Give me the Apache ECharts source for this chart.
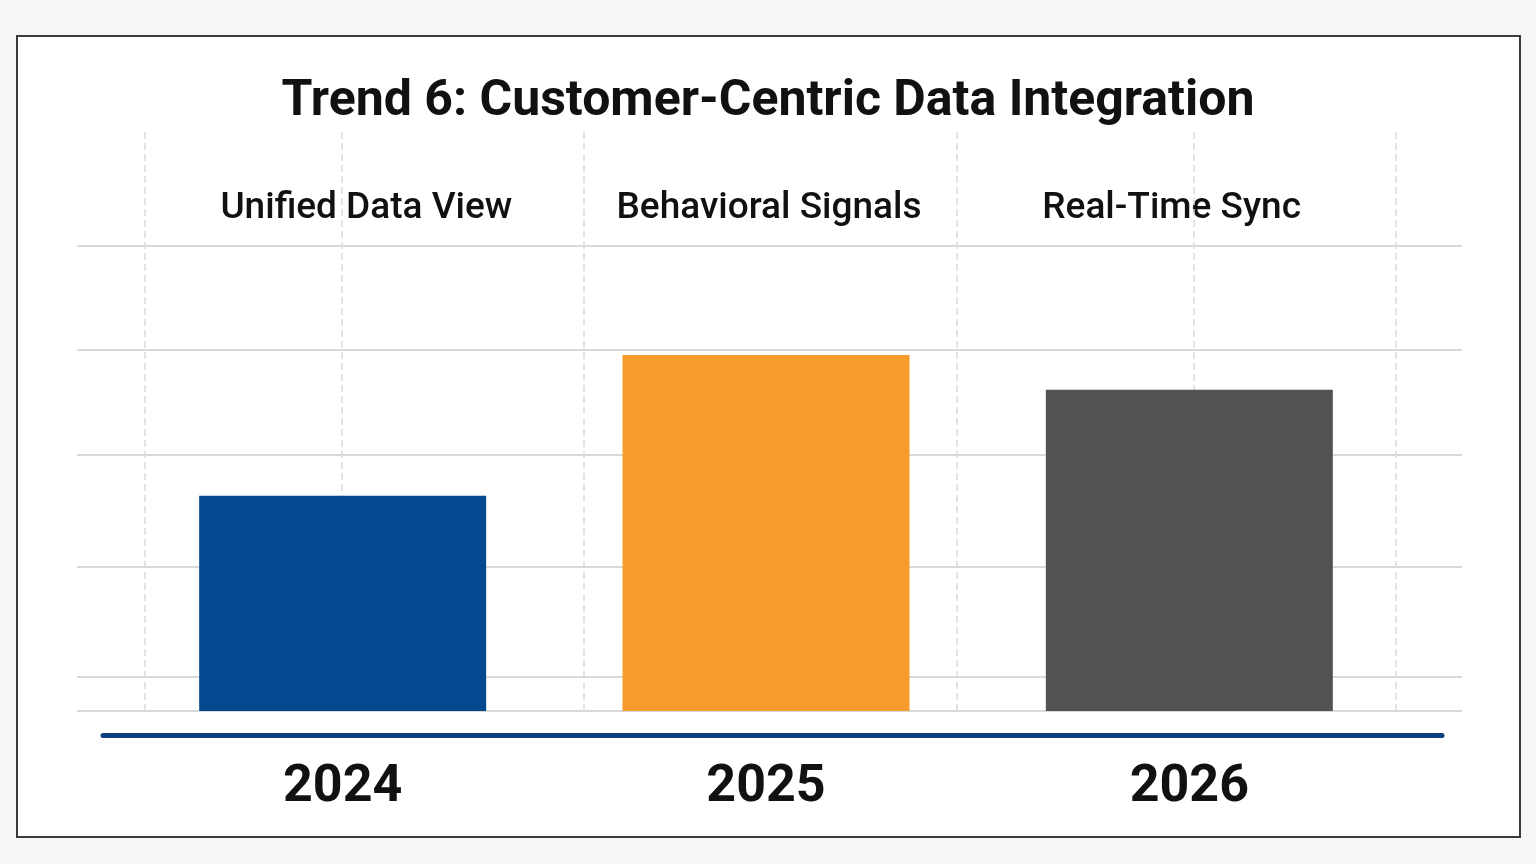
<!DOCTYPE html>
<html>
<head>
<meta charset="utf-8">
<title>Trend 6: Customer-Centric Data Integration</title>
<script src="https://cdn.jsdelivr.net/npm/echarts@6/dist/echarts.min.js"></script>
<style>
  html, body { margin: 0; padding: 0; background: #f6f6f6; }
  #frame {
    position: absolute; left: 16px; top: 35px;
    width: 1501px; height: 799px;
    border: 2px solid #3a3a3a; background: #ffffff;
  }
  #chart { position: absolute; left: 0; top: 0; width: 1536px; height: 864px; }
</style>
</head>
<body>
<div id="frame"></div>
<div id="chart"></div>
<script>
  const years = ["2024", "2025", "2026"];
  const topics = ["Unified Data View", "Behavioral Signals", "Real-Time Sync"];
  const scores = [46.3, 76.6, 69.1];
  const barColors = ["#02498f", "#f59c2c", "#515251"];
  // decorative grid lines (value units of the hidden axes)
  const hLines = [0, 7.3, 31, 55.1, 77.7, 100.2];
  const vLines = [4.9, 19.1, 36.6, 63.5, 80.6, 95.2];

  const chart = echarts.init(document.getElementById("chart"), null, { renderer: "canvas" });

  const hidden = { show: false };

  const option = {
    backgroundColor: "transparent",
    animation: false,
    title: {
      text: "Trend 6: Customer-Centric Data Integration",
      left: "center",
      top: 72,
      textStyle: {
        fontFamily: "Roboto",
        fontSize: 50,
        fontWeight: "bold",
        color: "#111111",
      },
    },
    grid: [
      { left: 77, right: 74, top: 130, bottom: 153 }, // grid lines
      { left: 131, right: 135, top: 130, bottom: 153 }, // bars
      { left: 165, right: 163, top: 209, bottom: 153 }, // topic labels
      { left: 103, right: 94, top: 130, bottom: 129 }, // blue rule
    ],
    xAxis: [
      { gridIndex: 0, type: "value", min: 0, max: 100, show: false },
      {
        gridIndex: 1,
        type: "category",
        data: years,
        axisLine: hidden,
        axisTick: hidden,
        splitLine: hidden,
        axisLabel: {
          margin: 77,
          verticalAlign: "middle",
          fontFamily: "Roboto",
          fontSize: 52,
          fontWeight: "bold",
          color: "#111111",
        },
      },
      {
        gridIndex: 2,
        type: "category",
        position: "top",
        data: topics,
        axisLine: hidden,
        axisTick: hidden,
        splitLine: hidden,
        axisLabel: {
          margin: 0,
          verticalAlign: "middle",
          fontFamily: "Roboto",
          fontSize: 37,
          fontWeight: 500,
          color: "#111111",
        },
      },
      {
        gridIndex: 3,
        type: "value",
        min: 0,
        max: 1,
        axisLine: { show: true, lineStyle: { color: "#0b3f7e", width: 5 } },
        axisTick: hidden,
        axisLabel: hidden,
        splitLine: hidden,
      },
    ],
    yAxis: [
      { gridIndex: 0, type: "value", min: 0, max: 125, show: false },
      { gridIndex: 1, type: "value", min: 0, max: 125, show: false },
      { gridIndex: 2, type: "value", show: false },
      { gridIndex: 3, type: "value", show: false },
    ],
    series: [
      {
        type: "line",
        xAxisIndex: 0,
        yAxisIndex: 0,
        data: [],
        z: 1,
        silent: true,
        markLine: {
          z: 1,
          silent: true,
          symbol: ["none", "none"],
          label: { show: false },
          data: [
            ...hLines.map((v) => ({
              yAxis: v,
              lineStyle: { color: "#d9d9d9", width: 2, type: "solid" },
            })),
            ...vLines.map((v) => ({
              xAxis: v,
              lineStyle: { color: "#dadada", width: 1.5, type: [7, 4] },
            })),
          ],
        },
      },
      {
        name: "Score",
        type: "bar",
        xAxisIndex: 1,
        yAxisIndex: 1,
        barWidth: 287,
        z: 6,
        data: scores.map((v, i) => ({
          value: v,
          itemStyle: { color: barColors[i] },
        })),
      },
    ],
  };

  chart.setOption(option);
</script>
</body>
</html>
